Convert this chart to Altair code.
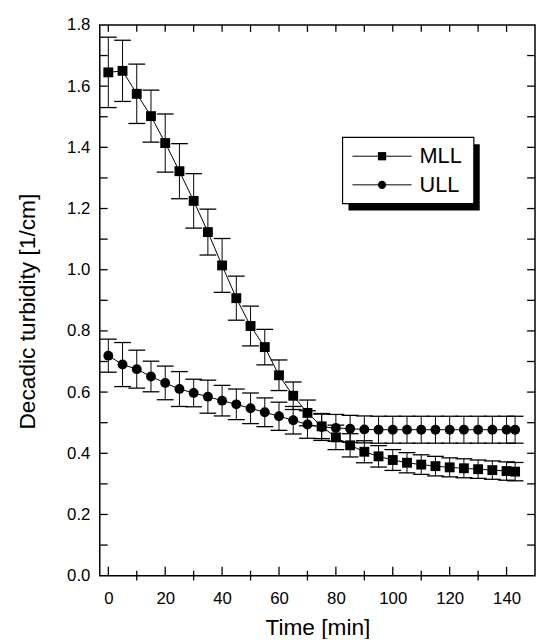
import altair as alt
import pandas as pd

# ---- data ----
times = [0, 5, 10, 15, 20, 25, 30, 35, 40, 45, 50, 55, 60, 65, 70,
         75, 80, 85, 90, 95, 100, 105, 110, 115, 120, 125, 130, 135, 140, 143]

mll = [1.645, 1.650, 1.575, 1.502, 1.414, 1.322, 1.225, 1.123, 1.014, 0.907,
       0.816, 0.747, 0.655, 0.588, 0.532, 0.488, 0.452, 0.426, 0.405, 0.390,
       0.378, 0.369, 0.363, 0.358, 0.354, 0.351, 0.348, 0.345, 0.342, 0.340]
mll_err = [0.115, 0.100, 0.097, 0.085, 0.095, 0.090, 0.089, 0.075, 0.088, 0.072,
           0.065, 0.058, 0.050, 0.045, 0.042, 0.040, 0.040, 0.038, 0.036, 0.035,
           0.034, 0.033, 0.032, 0.032, 0.031, 0.031, 0.030, 0.030, 0.030, 0.030]

ull = [0.719, 0.690, 0.675, 0.651, 0.630, 0.610, 0.597, 0.585, 0.572, 0.560,
       0.547, 0.534, 0.521, 0.508, 0.494, 0.486, 0.483, 0.480, 0.478, 0.477,
       0.477, 0.477, 0.477, 0.477, 0.477, 0.477, 0.477, 0.477, 0.477, 0.477]
ull_err = [0.054, 0.072, 0.062, 0.050, 0.055, 0.057, 0.045, 0.054, 0.050, 0.050,
           0.050, 0.047, 0.046, 0.045, 0.045, 0.044, 0.044, 0.044, 0.044, 0.044,
           0.044, 0.044, 0.044, 0.044, 0.044, 0.044, 0.044, 0.044, 0.044, 0.044]

series_names = ["MLL", "ULL"]
x_major = [0, 20, 40, 60, 80, 100, 120, 140]
x_minor = [10, 30, 50, 70, 90, 110, 130]
x_top = [0, 10, 20, 30, 40, 50, 60, 70, 80, 90, 100, 110, 120, 130, 140]
y_labels = [0.0, 0.2, 0.4, 0.6, 0.8, 1.0, 1.2, 1.4, 1.6, 1.8]
y_ticks = [0.1, 0.2, 0.3, 0.4, 0.5, 0.6, 0.7, 0.8, 0.9, 1.0, 1.1, 1.2,
           1.3, 1.4, 1.5, 1.6, 1.7]

# ---- tables ----
rows = []
for name, vals, errs in ((series_names[0], mll, mll_err), (series_names[1], ull, ull_err)):
    for t, v, e in zip(times, vals, errs):
        rows.append({"series": name, "t": t, "v": v, "lo": v - e, "hi": v + e})
df = pd.DataFrame(rows)
df_xmaj = pd.DataFrame({"t": x_major})
df_xmin = pd.DataFrame({"t": x_minor})
df_xtop = pd.DataFrame({"t": x_top})
df_yt = pd.DataFrame({"v": y_ticks})
one = pd.DataFrame({"k": [0]})

W, H = 441, 558
FONT = "Liberation Sans"

xs = alt.Scale(domain=[-3, 150], nice=False, zero=False)
ys = alt.Scale(domain=[0, 1.8], nice=False, zero=False)

x_axis = alt.Axis(
    values=x_major, title="Time [min]", ticks=False, domain=False, grid=False,
    labelPadding=15, titlePadding=11, labelFontSize=17, titleFontSize=23)
y_axis = alt.Axis(
    values=y_labels, format=".1f", title="Decadic turbidity [1/cm]", ticks=False,
    domain=False, grid=False, labelPadding=10, titlePadding=28, titleY=290,
    labelFontSize=17, titleFontSize=23)


def X(f):
    return alt.X(f, scale=xs, axis=x_axis)


def Y(f):
    return alt.Y(f, scale=ys, axis=y_axis)


lines = alt.Chart(df).mark_line(color="black", strokeWidth=1).encode(
    x=X("t:Q"), y=Y("v:Q"), detail="series:N")

bars = alt.Chart(df).mark_rule(color="black", strokeWidth=1).encode(
    x=X("t:Q"), y=Y("lo:Q"), y2="hi:Q")
cap_hi = alt.Chart(df).mark_tick(orient="horizontal", color="black", size=17,
                                 thickness=1.3, opacity=1).encode(
    x=X("t:Q"), y=Y("hi:Q"))
cap_lo = alt.Chart(df).mark_tick(orient="horizontal", color="black", size=17,
                                 thickness=1.3, opacity=1).encode(
    x=X("t:Q"), y=Y("lo:Q"))

points = alt.Chart(df).mark_point(filled=True, opacity=1, color="black").encode(
    x=X("t:Q"), y=Y("v:Q"),
    shape=alt.Shape("series:N", scale=alt.Scale(domain=series_names,
                                                range=["square", "circle"]),
                    legend=None),
    size=alt.value(100))

# inward axis ticks
t_bot = alt.Chart(df_xmaj).mark_rule(color="black", strokeWidth=1.3).encode(
    x=X("t:Q"), y=alt.value(H), y2=alt.value(H - 9))
t_bot_min = alt.Chart(df_xmin).mark_rule(color="black", strokeWidth=1.3).encode(
    x=X("t:Q"), y=alt.value(H + 5), y2=alt.value(H - 5))
t_top = alt.Chart(df_xtop).mark_rule(color="black", strokeWidth=1.3).encode(
    x=X("t:Q"), y=alt.value(0), y2=alt.value(7))
t_left = alt.Chart(df_yt).mark_rule(color="black", strokeWidth=1.3).encode(
    y=Y("v:Q"), x=alt.value(0), x2=alt.value(8))
t_right = alt.Chart(df_yt).mark_rule(color="black", strokeWidth=1.3).encode(
    y=Y("v:Q"), x=alt.value(W), x2=alt.value(W - 8))

# legend box (with shadow)
LX0, LX1, LY0, LY1 = 246, 379, 114, 181
shadow = alt.Chart(one).mark_rect(color="black").encode(
    x=alt.value(LX0 + 6), x2=alt.value(LX1 + 6), y=alt.value(LY0 + 7), y2=alt.value(LY1 + 7))
box = alt.Chart(one).mark_rect(fill="white", stroke="black", strokeWidth=1.2).encode(
    x=alt.value(LX0), x2=alt.value(LX1), y=alt.value(LY0), y2=alt.value(LY1))
leg = []
for i, (name, shp) in enumerate(zip(series_names, ["square", "circle"])):
    yy = 133 + 29 * i
    leg.append(alt.Chart(one).mark_rule(color="black", strokeWidth=1).encode(
        x=alt.value(256), x2=alt.value(316), y=alt.value(yy)))
    leg.append(alt.Chart(one).mark_point(filled=True, opacity=1, color="black",
                                         shape=shp, size=70).encode(
        x=alt.value(286), y=alt.value(yy)))
    leg.append(alt.Chart(one).mark_text(text=name, align="left", baseline="middle",
                                        fontSize=22, font=FONT, color="black").encode(
        x=alt.value(324), y=alt.value(yy)))

chart = alt.layer(
    lines, bars, cap_hi, cap_lo, points,
    t_bot, t_bot_min, t_top, t_left, t_right,
    shadow, box, *leg
).properties(
    width=W, height=H,
    autosize=alt.AutoSizeParams(type="none"),
    padding={"left": 93, "top": 13, "right": 1, "bottom": 60},
).configure_view(
    stroke="black", strokeWidth=1.5
).configure_axis(
    labelFont=FONT, titleFont=FONT, labelColor="black", titleColor="black",
    titleFontWeight="normal"
)

chart.save("out.html", embed_options={"renderer": "svg", "actions": False})
